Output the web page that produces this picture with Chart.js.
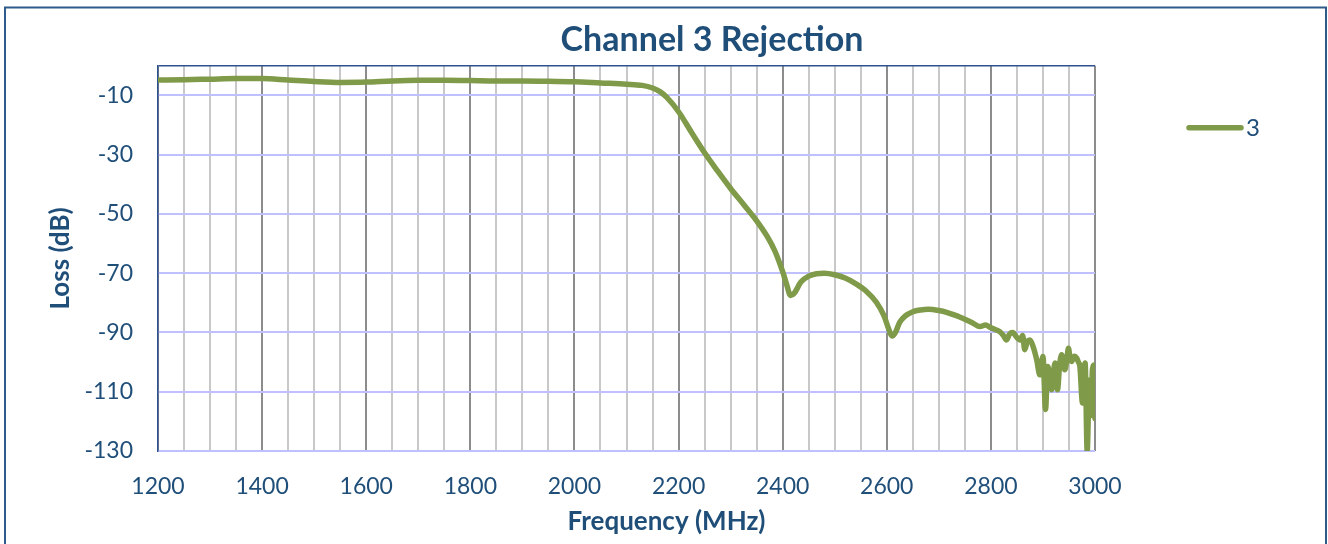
<!DOCTYPE html>
<html>
<head>
<meta charset="utf-8">
<script src="https://cdn.jsdelivr.net/npm/chart.js@4.4.1/dist/chart.umd.min.js"></script>
<style>
  html, body { margin: 0; padding: 0; background: #fff; }
</style>
</head>
<body>
<canvas id="myChart" width="1328" height="544"></canvas>
<script>
// Channel 3 rejection
const freqMHz = [
  1200, 1250, 1300, 1350, 1400, 1450, 1500, 1550, 1600, 1650,
  1700, 1750, 1800, 1850, 1900, 1950, 2000, 2050, 2100, 2130,
  2150, 2165, 2177, 2200, 2225, 2251, 2275, 2300, 2325, 2350,
  2370, 2385, 2400, 2408, 2415, 2422, 2435, 2450, 2465, 2480,
  2500, 2520, 2540, 2560, 2580, 2595, 2603, 2610, 2616, 2625,
  2635, 2650, 2665, 2680, 2700, 2715, 2728, 2740, 2753, 2765,
  2779, 2790, 2798, 2808, 2817, 2824, 2830, 2836, 2842, 2849,
  2856, 2861, 2865, 2870, 2875, 2881, 2888, 2894, 2900, 2905,
  2909, 2913, 2917, 2923, 2928, 2932, 2936, 2942, 2946, 2949,
  2952, 2955, 2960, 2965, 2968, 2971, 2976, 2979, 2981, 2985,
  2988, 2990, 2993, 2995, 2998, 3000
];
const lossDb = [
  -4.8, -4.7, -4.5, -4.3, -4.3, -4.8, -5.3, -5.6, -5.5, -5.1,
  -4.9, -4.9, -5.0, -5.1, -5.1, -5.2, -5.4, -5.8, -6.2, -6.6,
  -7.5, -8.8, -10.6, -15.5, -22.5, -29.6, -35.5, -41.4, -46.8, -52.3,
  -57.5, -62.5, -69.5, -74, -77.5, -76.8, -73, -71, -70.2, -70,
  -70.5, -71.6, -73.5, -76, -79.8, -84.5, -88.5, -91.2, -90.2, -86.5,
  -84.5, -83, -82.4, -82.2, -82.6, -83.2, -84, -84.8, -85.8, -86.8,
  -88, -87.5, -88.2, -89, -89.7, -91, -92.5, -90.5, -90, -91.5,
  -92.5, -91, -95.8, -93, -92.5, -94.7, -99.2, -104.3, -98.1, -116,
  -101.5, -104, -109.3, -100.3, -109.3, -101, -97.5, -102.6, -99, -95.3,
  -98.5, -99.8, -98, -98.7, -100, -101.5, -113.8, -103, -100.3, -130,
  -112, -106, -118, -102.6, -101, -119
];
const yTicks = [-130, -110, -90, -70, -50, -30, -10];
const seriesName = '3';

const textBlue = '#1F4E79';
const fontFamily = 'Lato, "Open Sans", sans-serif';

// outer frame of the chart
const framePlugin = {
  id: 'frame',
  beforeDraw(chart) {
    const ctx = chart.ctx;
    ctx.save();
    ctx.fillStyle = '#fff';
    ctx.fillRect(0, 0, chart.width, chart.height);
    ctx.strokeStyle = '#2F5B8C';
    ctx.lineWidth = 2;
    ctx.strokeRect(5, 7.5, 1321, 600);
    ctx.restore();
  }
};

// title and x axis title sit a bit right of the plot centre, like the original
const titleShift = {
  id: 'titleShift',
  afterLayout(chart) {
    const t = chart.titleBlock;
    if (t) {
      t.left = 96;
      t.right = chart.width;
      t.width = t.right - t.left;
    }
    const sx = chart.scales.x;
    if (sx && !sx._shifted) {
      const orig = sx.drawTitle;
      sx.drawTitle = function () {
        this.ctx.save();
        this.ctx.translate(40, 0);
        orig.call(this);
        this.ctx.restore();
      };
      sx._shifted = true;
    }
  }
};

// legend: a short line with the series name, top right
const lineLegend = {
  id: 'lineLegend',
  afterDraw(chart) {
    const ctx = chart.ctx;
    const area = chart.chartArea;
    const ds = chart.data.datasets[0];
    const x0 = area.right + 94;
    const y = area.top + 62;
    ctx.save();
    ctx.strokeStyle = ds.borderColor;
    ctx.lineWidth = 5.5;
    ctx.lineCap = 'round';
    ctx.beginPath();
    ctx.moveTo(x0, y);
    ctx.lineTo(x0 + 52, y);
    ctx.stroke();
    ctx.fillStyle = textBlue;
    ctx.font = '24px ' + fontFamily;
    ctx.textBaseline = 'middle';
    ctx.fillText(ds.label, x0 + 57, y);
    ctx.restore();
  }
};

new Chart('myChart', {
  type: 'line',
  data: {
    datasets: [{
      label: seriesName,
      data: freqMHz.map((f, i) => ({ x: f, y: lossDb[i] })),
      borderColor: '#7F9A48',
      backgroundColor: '#7F9A48',
      borderWidth: 5.5,
      pointRadius: 0,
      borderCapStyle: 'round',
      borderJoinStyle: 'round',
      cubicInterpolationMode: 'monotone'
    }]
  },
  options: {
    responsive: false,
    animation: false,
    layout: { padding: { left: 41, right: 233, top: 0, bottom: 3 } },
    plugins: {
      legend: { display: false },
      tooltip: { enabled: false },
      title: {
        display: true,
        text: 'Channel 3 Rejection',
        color: textBlue,
        font: { family: fontFamily, size: 34, weight: 'bold' },
        padding: { top: 20, bottom: 5 }
      }
    },
    scales: {
      x: {
        type: 'linear',
        min: 1200,
        max: 3000,
        ticks: {
          stepSize: 50,
          autoSkip: false,
          maxRotation: 0,
          color: textBlue,
          font: { family: fontFamily, size: 23 },
          padding: 22,
          callback: v => (v % 200 === 0 ? v : '')
        },
        grid: {
          drawTicks: false,
          color: c => (c.tick && c.tick.value % 200 === 0 ? '#8C8C8C' : '#C8C8C8'),
          lineWidth: 2
        },
        border: { display: false },
        title: {
          display: true,
          text: 'Frequency (MHz)',
          color: textBlue,
          font: { family: fontFamily, size: 26, weight: 'bold' },
          padding: { top: 4, bottom: 4 }
        },
        afterFit: s => { s.height = 90; }
      },
      y: {
        min: -130,
        max: 0,
        afterBuildTicks: s => { s.ticks = yTicks.concat([0]).map(v => ({ value: v })); },
        ticks: {
          color: textBlue,
          font: { family: fontFamily, size: 23 },
          padding: 25,
          callback: v => (v === 0 ? '' : v)
        },
        grid: {
          drawTicks: false,
          color: c => (c.tick && c.tick.value === 0 ? '#2F528F' : '#C0C0FF'),
          lineWidth: c => (c.tick && c.tick.value === 0 ? 1.5 : 2)
        },
        border: { display: true, color: '#2F528F', width: 1.5 },
        title: {
          display: true,
          text: 'Loss (dB)',
          color: textBlue,
          font: { family: fontFamily, size: 26, weight: 'bold' },
          padding: { top: 4, bottom: 4 }
        },
        afterFit: s => { s.width = 117; }
      }
    }
  },
  plugins: [framePlugin, titleShift, lineLegend]
});
</script>
</body>
</html>
